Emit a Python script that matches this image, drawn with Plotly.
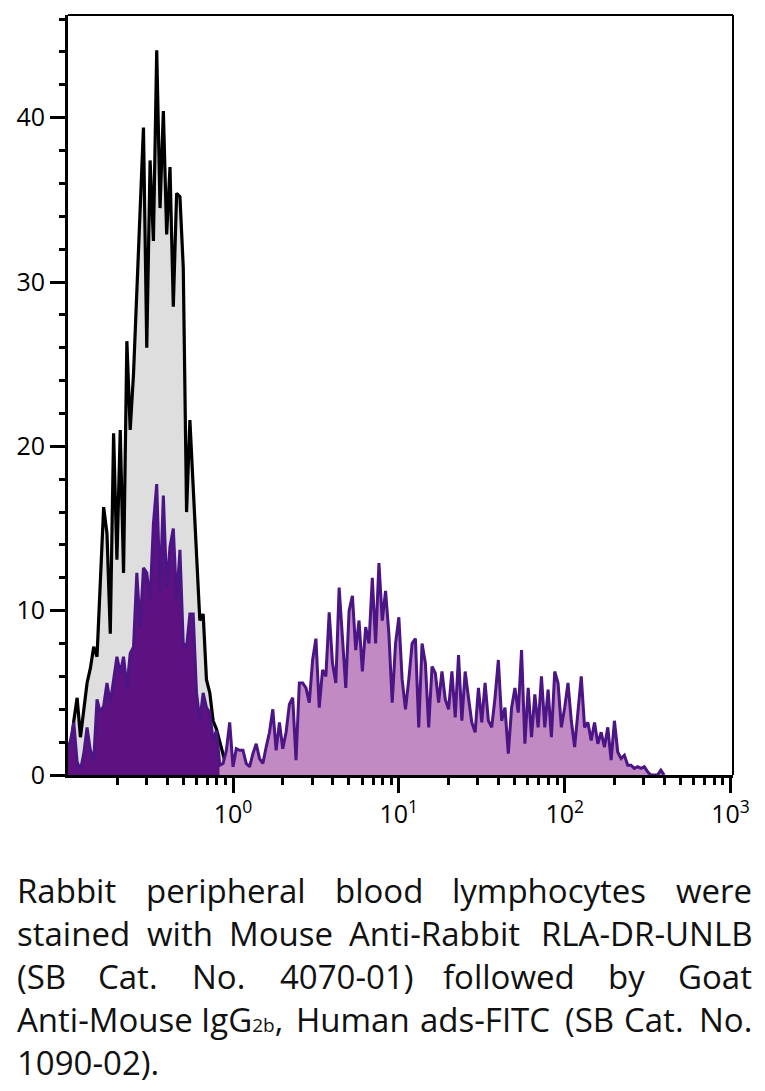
import plotly.graph_objects as go

# Histogram bins: log-spaced, 50 channels per decade starting at 10^-1
LOG_START = -1.0
BINS_PER_DECADE = 50

# Unstained / isotype control (grey, black outline)
control = [0.8, 1.3, 3.3, 4.7, 2.3, 3.8, 5.6, 6.5, 7.8, 7.2,
           11.7, 16.3, 14.7, 8.6, 20.8, 13.1, 21.0, 12.3, 26.4, 21.0,
           24.4, 29.3, 33.7, 39.4, 26.0, 37.4, 32.5, 44.1, 34.5, 40.4,
           32.9, 37.0, 28.5, 35.4, 35.2, 30.9, 16.0, 21.6, 17.5, 13.0,
           9.4, 9.8, 5.8, 5.0, 3.3, 2.8, 2.0, 1.3, 0.5, 0.2,
           0.0]

# Stained sample (purple)
stained = [1.5, 2.1, 3.2, 0.8, 0.3, 1.3, 2.9, 1.5, 0.9, 4.6,
           3.8, 4.2, 5.6, 4.4, 5.8, 7.2, 6.2, 7.2, 5.3, 7.4,
           7.8, 12.3, 9.0, 12.6, 12.3, 10.6, 15.3, 17.7, 11.1, 17.0,
           11.4, 13.9, 15.0, 10.6, 13.7, 8.0, 7.8, 9.8, 9.8, 5.0,
           3.3, 5.0, 4.1, 3.8, 2.1, 2.7, 0.6, 0.7, 1.5, 3.2,
           0.5, 1.6, 1.5, 1.5, 0.7, 0.5, 1.3, 1.9, 1.0, 0.7,
           1.7, 2.6, 4.0, 1.5, 3.2, 1.6, 2.6, 4.3, 4.7, 0.9,
           5.6, 5.6, 5.3, 4.4, 7.0, 8.3, 4.1, 6.4, 6.0, 9.9,
           6.8, 5.6, 11.4, 8.6, 5.3, 10.0, 10.9, 7.6, 9.4, 6.3,
           9.0, 8.0, 12.0, 8.0, 12.9, 9.4, 11.2, 8.6, 4.4, 8.0,
           9.6, 5.8, 4.0, 5.8, 8.0, 8.3, 2.9, 8.0, 6.8, 2.9,
           6.6, 6.2, 4.4, 6.3, 4.6, 4.0, 6.3, 3.5, 7.3, 3.3,
           6.3, 4.7, 3.2, 2.6, 5.3, 3.2, 5.6, 3.3, 2.9, 4.7,
           7.0, 3.3, 4.1, 1.3, 4.1, 5.3, 3.8, 7.6, 1.9, 5.3,
           2.3, 4.9, 2.9, 6.0, 2.9, 5.2, 2.3, 6.3, 5.6, 2.9,
           4.1, 5.6, 3.3, 1.7, 4.1, 6.0, 2.9, 3.2, 2.1, 3.2,
           1.9, 2.6, 1.7, 2.9, 0.9, 3.3, 1.4, 1.0, 1.2, 0.6,
           0.6, 0.4, 0.5, 0.4, 0.5, 0.2, 0.0, 0.0, 0.0, 0.3,
           0.0]
# channel where the gate changes (dark fill below, light fill above)
GATE = 46

x_ticks = [1, 10, 100, 1000]
x_ticktext = ["10<sup>0</sup>", "10<sup>1</sup>", "10<sup>2</sup>", "10<sup>3</sup>"]
y_ticks = [0, 10, 20, 30, 40]

caption = [
    ["Rabbit", "peripheral", "blood", "lymphocytes", "were"],
    ["stained", "with", "Mouse", "Anti-Rabbit", "RLA-DR-UNLB"],
    ["(SB", "Cat.", "No.", "4070-01)", "followed", "by", "Goat"],
    ["Anti-Mouse", "IgG<span style='font-size:19px'>2b</span>,", "Human", "ads-FITC",
     "(SB", "Cat.", "No."],
    ["1090-02)."],
]


def bins(n):
    return [10 ** (LOG_START + i / BINS_PER_DECADE) for i in range(n)]


xc = bins(len(control))
xs = bins(len(stained))

LINE_PURPLE = "#4b1585"
DARK_PURPLE = "#5e1282"
LIGHT_PURPLE = "#c28ac2"

fig = go.Figure()
fig.add_trace(go.Scatter(x=xc, y=control, mode="lines", fill="tozeroy",
                         fillcolor="#dedede", line=dict(color="black", width=3.2)))
fig.add_trace(go.Scatter(x=xs[:GATE + 1], y=stained[:GATE + 1], mode="lines", fill="tozeroy",
                         fillcolor=DARK_PURPLE, line=dict(width=0)))
fig.add_trace(go.Scatter(x=xs[GATE:], y=stained[GATE:], mode="lines", fill="tozeroy",
                         fillcolor=LIGHT_PURPLE, line=dict(width=0)))
fig.add_trace(go.Scatter(x=xs, y=stained, mode="lines",
                         line=dict(color=LINE_PURPLE, width=3)))

# the page has an 8px body margin; work in page pixels and convert
PAD = 8
PAGE_W, PAGE_H = 765, 1091
W, H = PAGE_W - 2 * PAD, PAGE_H - PAD
L, R, T, B = 68, 736, 15, 775  # plot area, page pixels

fig.update_layout(
    width=W, height=H,
    margin=dict(l=L - PAD, r=W - (R - PAD), t=T - PAD, b=H - (B - PAD)),
    paper_bgcolor="white", plot_bgcolor="white",
    showlegend=False,
    font=dict(family="Open Sans", color="black"),
)

minor_x = [m * 10 ** e for e in range(-1, 3) for m in range(2, 10)]
fig.update_xaxes(
    type="log", range=[-0.995, 3.015],
    tickvals=x_ticks, ticktext=x_ticktext,
    ticks="outside", ticklen=15, tickwidth=2.5, tickcolor="black",
    tickfont=dict(size=25, color="black"),
    minor=dict(tickvals=minor_x, ticks="outside", ticklen=7, tickwidth=2.5, tickcolor="black"),
    showline=True, linewidth=3, linecolor="black",
    showgrid=False, zeroline=False,
)
fig.update_yaxes(
    range=[0, 46.25],
    tickvals=y_ticks,
    ticks="outside", ticklen=15, tickwidth=2.5, tickcolor="black",
    tickfont=dict(size=25, color="black"),
    minor=dict(tickvals=[v for v in range(2, 47, 2) if v % 10], ticks="outside",
               ticklen=6, tickwidth=2.5, tickcolor="black"),
    showline=True, linewidth=3, linecolor="black",
    showgrid=False, zeroline=False,
)

# top and right frame
fig.add_shape(type="line", xref="paper", yref="paper", x0=0, x1=1, y0=1, y1=1,
              line=dict(color="black", width=2))
fig.add_shape(type="line", xref="paper", yref="paper", x0=1, x1=1, y0=0, y1=1,
              line=dict(color="black", width=2))

# justified caption, word by word (left ink edge in page pixels, None = right edge)
word_x = [
    [17, 146, 336, 454, None],
    [17, 147, 230, 350, None],
    [17, 98, 193, 281, 445, 610, None],
    [17, 202, 297, 422, 567, 627, None],
    [17],
]
line_y = [890.5, 933.5, 976.5, 1019.5, 1062.5]
TEXT_RIGHT = 755
for words, xpos, py in zip(caption, word_x, line_y):
    for w, px in zip(words, xpos):
        if px is None:
            fx, anchor = TEXT_RIGHT + 2, "right"
        else:
            fx, anchor = px - 2, "left"
        fig.add_annotation(
            text=w, xref="paper", yref="paper",
            x=(fx - L) / (R - L), y=(B - py) / (B - T),
            xanchor=anchor, yanchor="middle", showarrow=False,
            font=dict(family="Open Sans", size=33, color="#111111"),
        )

fig.write_html("out.html")
